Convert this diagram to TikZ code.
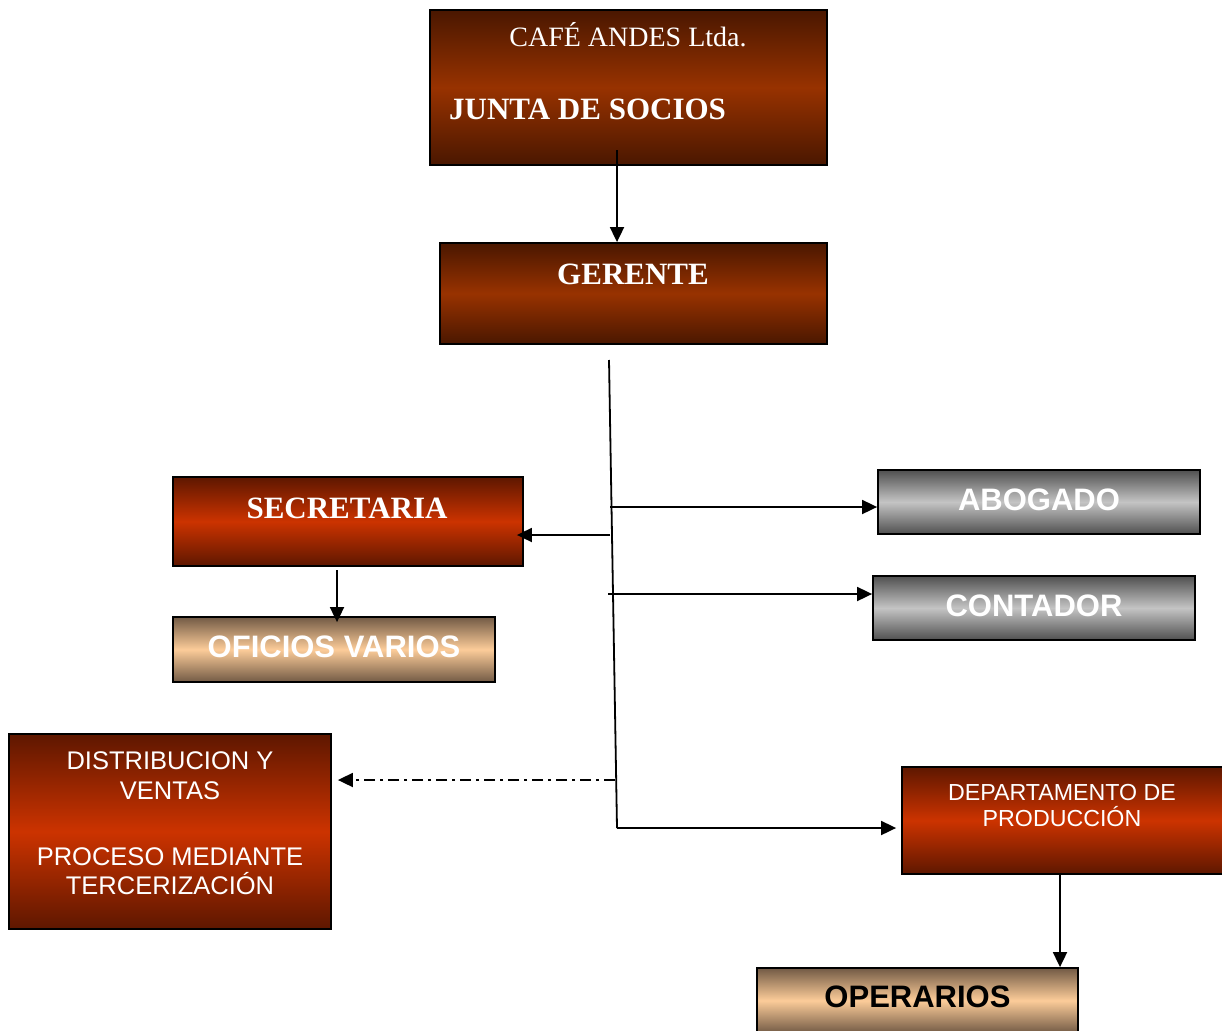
\documentclass[tikz,border=0pt]{standalone}
\usepackage{fontspec}
\setmainfont{Liberation Serif}
\setsansfont{Liberation Sans}
\usetikzlibrary{arrows.meta,calc}
\definecolor{brdark}{HTML}{4A1700}
\definecolor{brmid}{HTML}{983200}
\definecolor{rddark}{HTML}{5E1700}
\definecolor{rdmid}{HTML}{CC3300}
\definecolor{grdark}{HTML}{505050}
\definecolor{grmid}{HTML}{C4C4C4}
\definecolor{tndark}{HTML}{725A45}
\definecolor{tnmid}{HTML}{FCCC99}
\tikzset{
  box/.style={draw=black, line width=1.8pt, rectangle, inner sep=0pt},
  brownbox/.style={box, top color=brdark, bottom color=brdark, middle color=brmid},
  redbox/.style={box, top color=rddark, bottom color=rddark, middle color=rdmid},
  greybox/.style={box, top color=grdark, bottom color=grdark, middle color=grmid},
  tanbox/.style={box, top color=tndark, bottom color=tndark, middle color=tnmid},
  txt/.style={anchor=base, inner sep=0pt, text=white},
  serb/.style={txt, font=\fontsize{31}{36}\selectfont\bfseries},
  sansb/.style={txt, font=\fontsize{31}{36}\selectfont\sffamily\bfseries},
  sansr/.style={txt, font=\fontsize{25.5}{30}\selectfont\sffamily},
  sanss/.style={txt, font=\fontsize{23.2}{27}\selectfont\sffamily},
  conn/.style={draw=black, line width=1.8pt},
  arr/.style={conn, -{Triangle[length=15pt,width=14pt]}},
  dashdot/.style={dash pattern=on 11pt off 5pt on 3pt off 5pt}
}
\begin{document}
\begin{tikzpicture}[x=1pt,y=-1pt]
\useasboundingbox (0,0) rectangle (1222,1030);
\fill[white] (0,0) rectangle (1222,1030);
\clip (0,0) rectangle (1222,1030);

% boxes
\node[brownbox, minimum width=397pt, minimum height=155pt] (junta) at (628.5,87.5) {};
\node[brownbox, minimum width=387pt, minimum height=101pt] (gerente) at (633.5,293.5) {};
\node[redbox, minimum width=350pt, minimum height=89pt] (secretaria) at (348,521.5) {};
\node[tanbox, minimum width=322pt, minimum height=65pt] (oficios) at (334,649.5) {};
\node[greybox, minimum width=322pt, minimum height=64pt] (abogado) at (1039,502) {};
\node[greybox, minimum width=322pt, minimum height=64pt] (contador) at (1034,608) {};
\node[redbox, minimum width=322pt, minimum height=195pt] (dist) at (170,831.5) {};
\node[redbox, minimum width=322pt, minimum height=107pt] (depto) at (1063,820.5) {};
\node[tanbox, minimum width=321pt, minimum height=65pt] (operarios) at (917.5,1000.5) {};

% texts
\node[txt, font=\fontsize{28}{32}\selectfont] (cafeT) at (628,47) {CAFÉ ANDES Ltda.};
\node[serb, anchor=base west] (juntaT) at (449,119) {JUNTA DE SOCIOS};
\node[serb] (gerenteT) at (633,284) {GERENTE};
\node[serb] (secretariaT) at (347,518) {SECRETARIA};
\node[sansb] (oficiosT) at (334,657) {OFICIOS VARIOS};
\node[sansb] (abogadoT) at (1039,510) {ABOGADO};
\node[sansb] (contadorT) at (1034,616) {CONTADOR};
\node[sansr] (distT1) at (170,769) {DISTRIBUCION Y};
\node[sansr] (distT2) at (170,799) {VENTAS};
\node[sansr] (distT3) at (170,865) {PROCESO MEDIANTE};
\node[sansr] (distT4) at (170,894) {TERCERIZACIÓN};
\node[sanss] (deptoT1) at (1062,800) {DEPARTAMENTO DE};
\node[sanss] (deptoT2) at (1062,826) {PRODUCCIÓN};
\node[sansb, text=black] (operariosT) at (917.5,1007) {OPERARIOS};

% connectors
\coordinate (j1) at (617,150);
\draw[arr] (j1) -- (j1 |- gerente.north);
\coordinate (tTop) at (609,360);
\coordinate (tBot) at (617,828);
\draw[conn] (tTop) -- (tBot);
\coordinate (bA) at (610,507);
\draw[arr] (bA) -- (bA -| abogado.west);
\coordinate (bS) at (610,535);
\draw[arr] (bS) -- ($(bS -| secretaria.east)+(-7,0)$);
\coordinate (bC) at (608,594);
\draw[arr] (bC) -- (bC -| contador.west);
\coordinate (bD) at (615,780);
\draw[arr, dashdot] (bD) -- ($(bD -| dist.east)+(6,0)$);
\draw[arr] (tBot) -- ($(tBot -| depto.west)+(-5,0)$);
\coordinate (s2) at (337,570);
\draw[arr] (s2) -- ($(s2 |- oficios.north)+(0,6)$);
\coordinate (d2) at (1060,874);
\draw[arr] (d2) -- (d2 |- operarios.north);
\end{tikzpicture}
\end{document}
